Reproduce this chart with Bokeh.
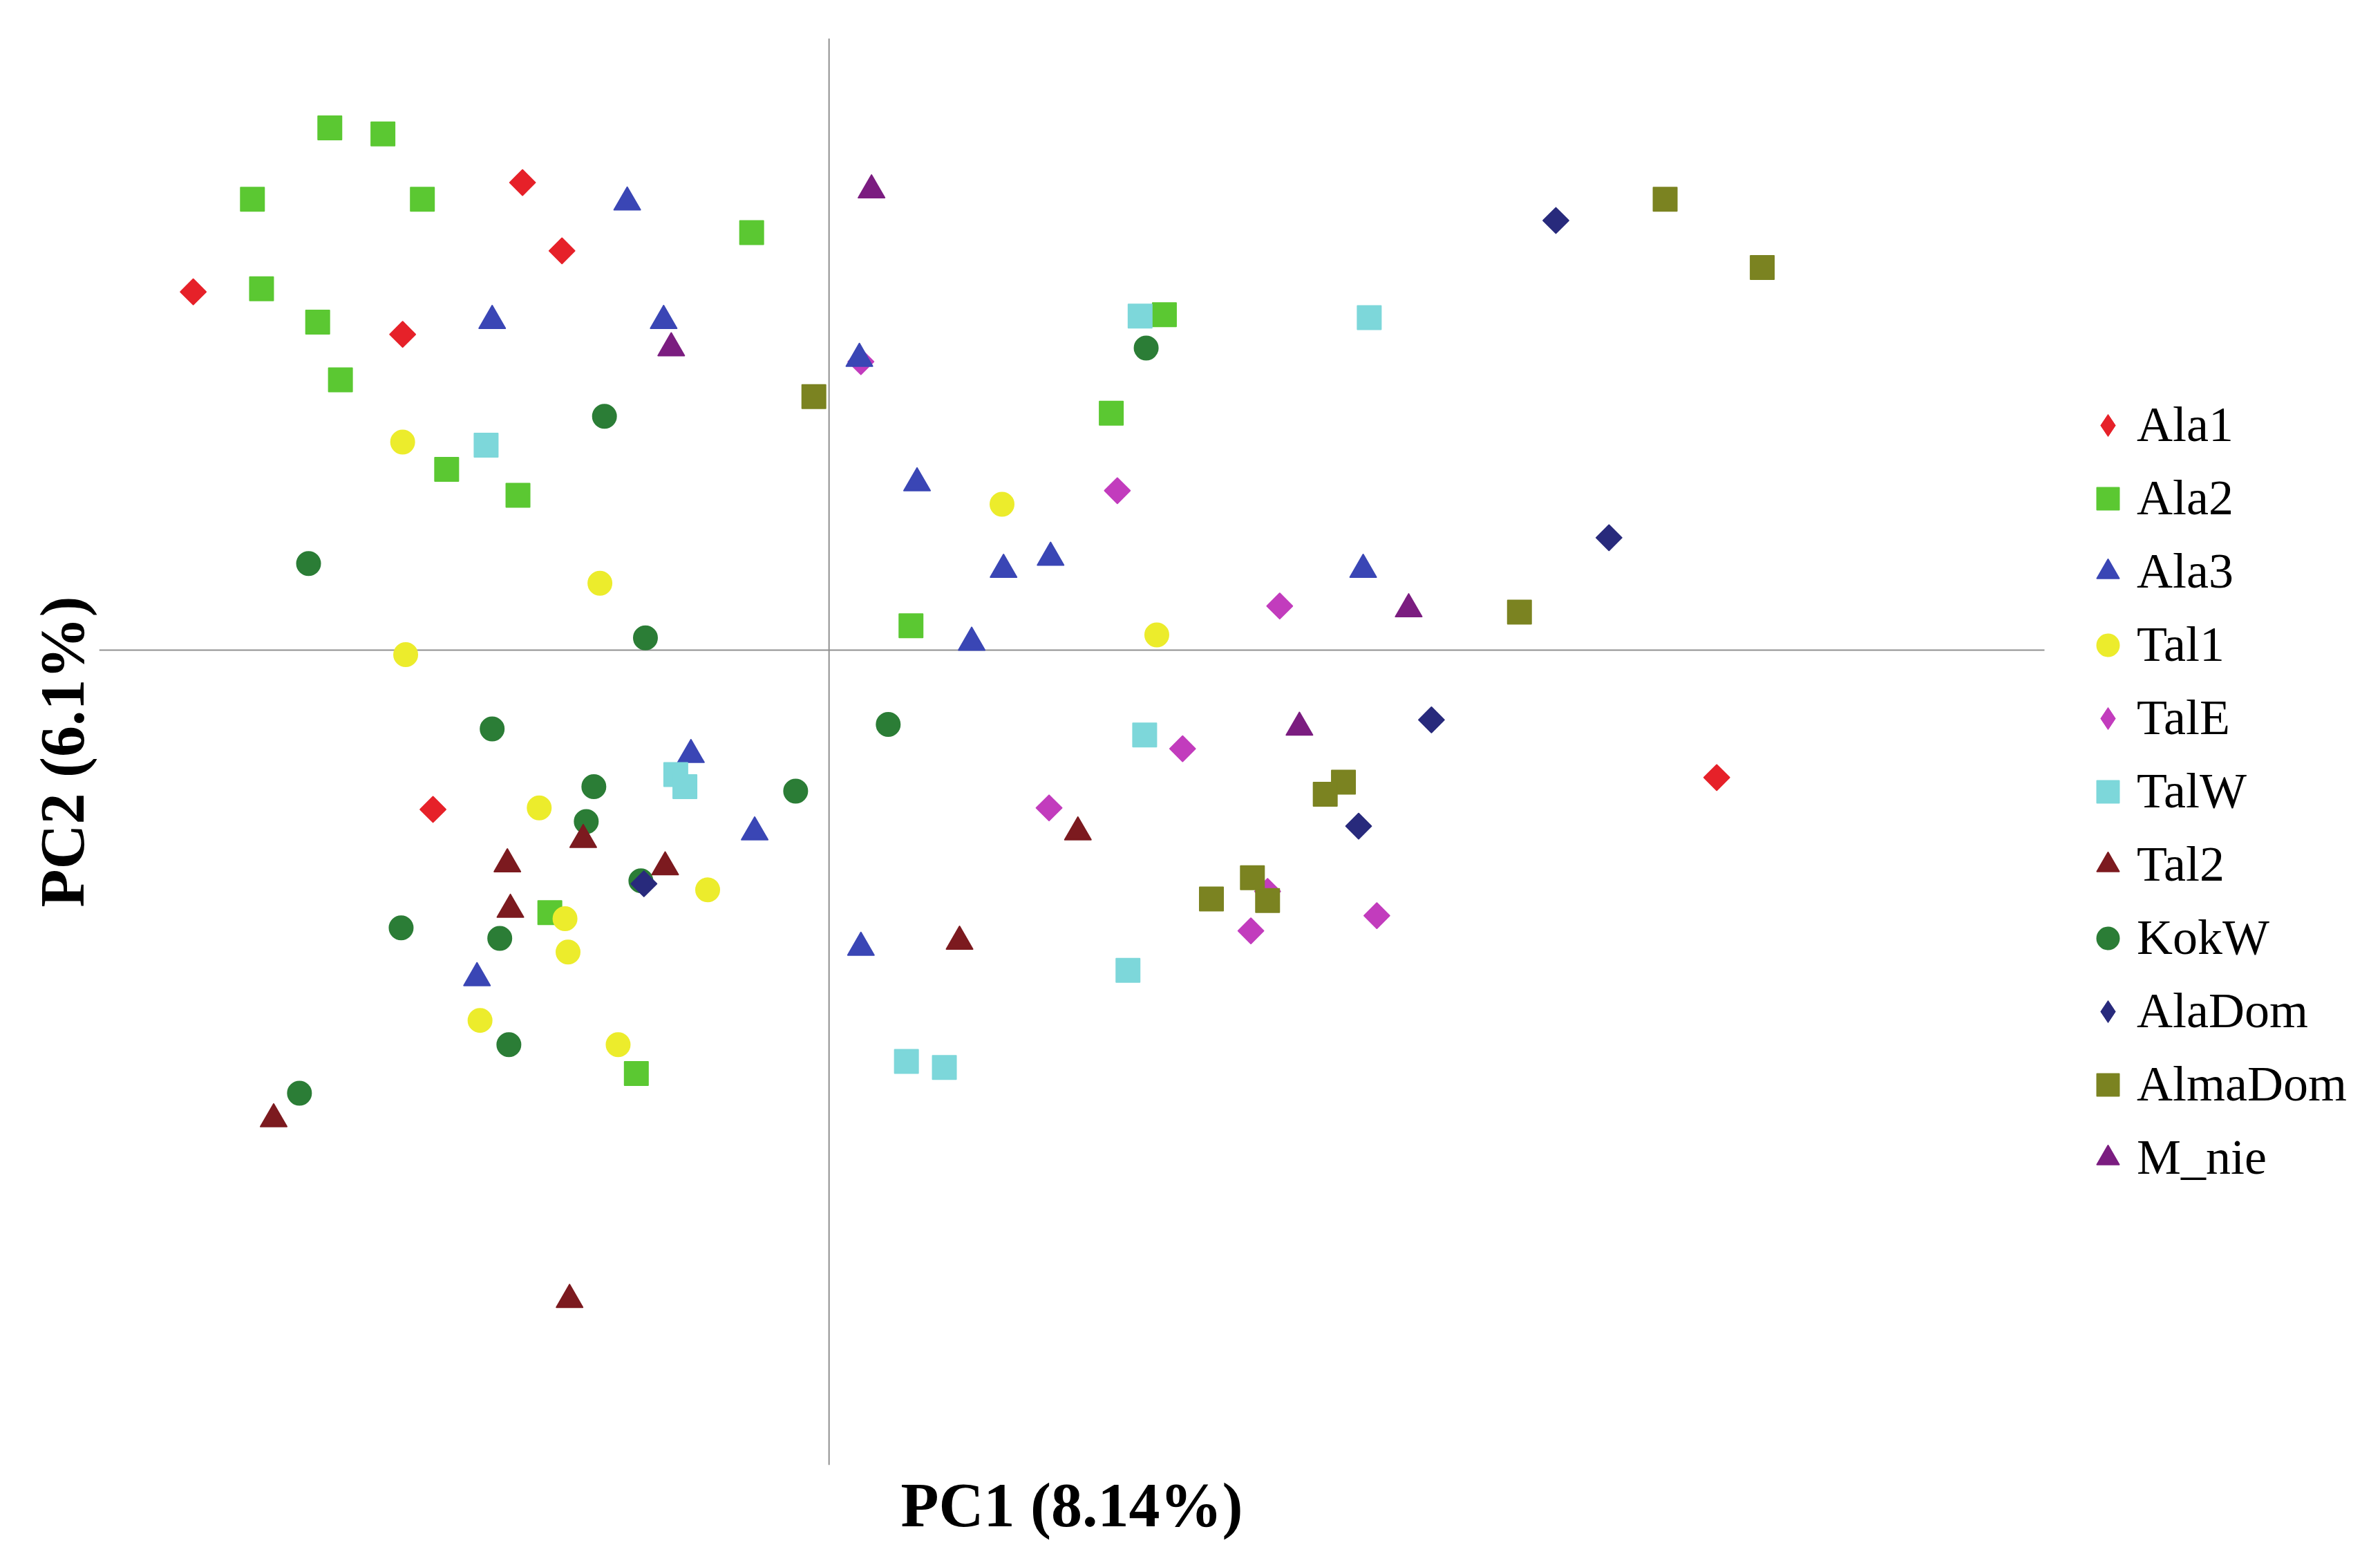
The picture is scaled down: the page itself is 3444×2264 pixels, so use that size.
import math
import numpy as np
from bokeh.plotting import figure
from bokeh.models import (ColumnDataSource, Range1d, Span, Legend, LegendItem,
                          FixedTicker, Title)
from bokeh.embed import file_html
from bokeh.resources import INLINE

# ---- data (PCA scores, arbitrary units) ----
GROUPS = ["Ala1", "Ala2", "Ala3", "Tal1", "TalE", "TalW", "Tal2", "KokW",
          "AlaDom", "AlmaDom", "M_nie"]

ala1_pc1 = [-4.19, -2.02, -1.76, -2.81, -2.61, 5.85]
ala1_pc2 = [2.36, 3.08, 2.63, 2.08, -1.05, -0.84]

ala2_pc1 = [-3.29, -2.94, -3.80, -2.68, -0.51, -3.74, -3.37, -3.22, -2.52, -2.05,
            2.21, 1.86, 0.54, -1.84, -1.27]
ala2_pc2 = [3.44, 3.40, 2.97, 2.97, 2.75, 2.38, 2.16, 1.78, 1.19, 1.02,
            2.21, 1.56, 0.16, -1.73, -2.79]

ala3_pc1 = [-1.33, -2.22, -1.09, 0.20, 0.58, 1.15, 1.46, 3.52, 0.94, -0.91, -0.49,
            -2.32, 0.21]
ala3_pc2 = [2.95, 2.17, 2.17, 1.92, 1.10, 0.53, 0.61, 0.53, 0.05, -0.69, -1.20,
            -2.16, -1.96]

tal1_pc1 = [-2.81, -1.51, -2.79, 1.14, 2.16, -1.91, -0.80, -1.74, -1.72, -2.30, -1.39]
tal1_pc2 = [1.37, 0.44, -0.03, 0.96, 0.10, -1.04, -1.58, -1.77, -1.99, -2.44, -2.60]

tale_pc1 = [1.90, 2.97, 2.33, 1.45, 2.89, 2.78, 3.61, 0.21]
tale_pc2 = [1.05, 0.29, -0.65, -1.04, -1.59, -1.85, -1.75, 1.90]

talw_pc1 = [-2.26, 2.05, 3.56, 2.08, -1.01, -0.95, 1.97, 0.51, 0.76]
talw_pc2 = [1.35, 2.20, 2.19, -0.56, -0.82, -0.90, -2.11, -2.71, -2.75]

tal2_pc1 = [-1.62, -2.12, -1.08, -2.10, 1.64, 0.86, -3.66, -1.71]
tal2_pc2 = [-1.25, -1.41, -1.43, -1.71, -1.20, -1.92, -3.09, -4.28]

kokw_pc1 = [-1.48, 2.09, -3.43, -1.21, 0.39, -2.22, -1.55, -0.22, -1.60, -2.82,
            -2.17, -2.11, -3.49, -1.24]
kokw_pc2 = [1.54, 1.99, 0.57, 0.08, -0.49, -0.52, -0.90, -0.93, -1.13, -1.83,
            -1.90, -2.60, -2.92, -1.52]

aladom_pc1 = [4.79, 5.14, 3.97, 3.49, -1.22]
aladom_pc2 = [2.83, 0.74, -0.46, -1.16, -1.54]

almadom_pc1 = [5.51, 6.15, -0.10, 4.55, 3.39, 3.27, 2.79, 2.52, 2.89]
almadom_pc2 = [2.97, 2.52, 1.67, 0.25, -0.87, -0.95, -1.50, -1.64, -1.65]

mnie_pc1 = [0.28, -1.04, 3.82, 3.10]
mnie_pc2 = [3.03, 1.99, 0.27, -0.51]

X_LABEL = "PC1 (8.14%)"
Y_LABEL = "PC2 (6.1%)"

# axis extents of the drawn cross (PC units)
PC1_MIN, PC1_MAX = -4.81, 8.01
PC2_MIN, PC2_MAX = -5.37, 4.03

# ---- styles ----
DIAMOND = dict(marker="square", size=26, angle=math.pi / 4, legend_marker="diamond")
STYLE = {
    "Ala1":    dict(DIAMOND, color="#e62129"),
    "Ala2":    dict(marker="square",   color="#5bc832", size=34, angle=0),
    "Ala3":    dict(marker="triangle", color="#3a46b5", size=38, angle=0),
    "Tal1":    dict(marker="circle",   color="#ecec2c", size=34, angle=0),
    "TalE":    dict(DIAMOND, color="#c23cbd"),
    "TalW":    dict(marker="square",   color="#7dd7da", size=34, angle=0),
    "Tal2":    dict(marker="triangle", color="#7c1a1f", size=38, angle=0),
    "KokW":    dict(marker="circle",   color="#2b7d36", size=34, angle=0),
    "AlaDom":  dict(DIAMOND, color="#282a7c"),
    "AlmaDom": dict(marker="square",   color="#7b8321", size=34, angle=0),
    "M_nie":   dict(marker="triangle", color="#7b1d80", size=38, angle=0),
}

DATA = {
    "Ala1": (ala1_pc1, ala1_pc2), "Ala2": (ala2_pc1, ala2_pc2),
    "Ala3": (ala3_pc1, ala3_pc2), "Tal1": (tal1_pc1, tal1_pc2),
    "TalE": (tale_pc1, tale_pc2), "TalW": (talw_pc1, talw_pc2),
    "Tal2": (tal2_pc1, tal2_pc2), "KokW": (kokw_pc1, kokw_pc2),
    "AlaDom": (aladom_pc1, aladom_pc2), "AlmaDom": (almadom_pc1, almadom_pc2),
    "M_nie": (mnie_pc1, mnie_pc2),
}

W, H = 3420, 2240
LEFT, TOP, BOTTOM = 143, 55, 121
CROSS_W = 2815                      # pixel width of the drawn PC1 extent
FRAME_W = W - LEFT                  # frame runs to the canvas edge (legend inside)
x_end = PC1_MIN + FRAME_W * (PC1_MAX - PC1_MIN) / CROSS_W

p = figure(width=W, height=H, output_backend="svg", toolbar_location=None,
           x_range=Range1d(PC1_MIN, x_end), y_range=Range1d(PC2_MIN, PC2_MAX),
           min_border_left=LEFT, min_border_right=0, min_border_top=TOP,
           min_border_bottom=BOTTOM)
p.outline_line_color = None
p.xgrid.visible = False
p.ygrid.visible = False
p.background_fill_color = "white"
p.border_fill_color = "white"

p.xaxis.visible = False
ax = p.yaxis[0]
ax.ticker = FixedTicker(ticks=[])
ax.axis_line_color = None
ax.major_tick_line_color = None
ax.minor_tick_line_color = None
ax.major_tick_out = 0
ax.major_tick_in = 0
ax.major_label_standoff = 0
ax.axis_label = Y_LABEL
ax.axis_label_text_font = "Liberation Serif"
ax.axis_label_text_font_style = "bold"
ax.axis_label_text_font_size = "90px"
ax.axis_label_text_color = "black"
ax.axis_label_standoff = 4

# PC1 label centred under the drawn cross
xt = Title(text=X_LABEL, align="left", offset=1160, standoff=12,
           text_font="Liberation Serif", text_font_style="bold",
           text_font_size="90px", text_color="black")
p.add_layout(xt, "below")

# the cross
p.add_layout(Span(location=0, dimension="height", line_color="#909090", line_width=2))
p.segment(x0=[PC1_MIN], y0=[0], x1=[PC1_MAX], y1=[0], line_color="#909090",
          line_width=2)

draw_order = ["Ala1", "Ala2", "TalE", "Ala3", "Tal1", "TalW", "KokW", "Tal2",
              "AlaDom", "AlmaDom", "M_nie"]
legend_renderers = {}
for g in draw_order:
    xs, ys = DATA[g]
    st = STYLE[g]
    src = ColumnDataSource(dict(x=xs, y=ys))
    r = p.scatter("x", "y", source=src, marker=st["marker"], size=st["size"],
                  angle=st["angle"], fill_color=st["color"], line_color=st["color"],
                  line_width=2, line_join="round")
    if "legend_marker" in st:
        # legend-only key (a NaN point, nothing drawn) so the key shows a diamond
        proxy = p.scatter(x=np.array([np.nan]), y=np.array([np.nan]),
                          marker=st["legend_marker"], size=st["size"],
                          fill_color=st["color"], line_color=st["color"])
        legend_renderers[g] = proxy
    else:
        legend_renderers[g] = r

items = [LegendItem(label=g, renderers=[legend_renderers[g]]) for g in GROUPS]
legend = Legend(items=items, location=(2867, 403), orientation="vertical",
                glyph_width=80, glyph_height=80, label_height=80, spacing=23,
                label_standoff=2, padding=0, margin=0,
                border_line_color=None, background_fill_alpha=0,
                label_text_font="Liberation Serif", label_text_font_size="72px",
                label_text_color="black")
p.add_layout(legend, "center")

open("out.html", "w").write(file_html(p, INLINE))
